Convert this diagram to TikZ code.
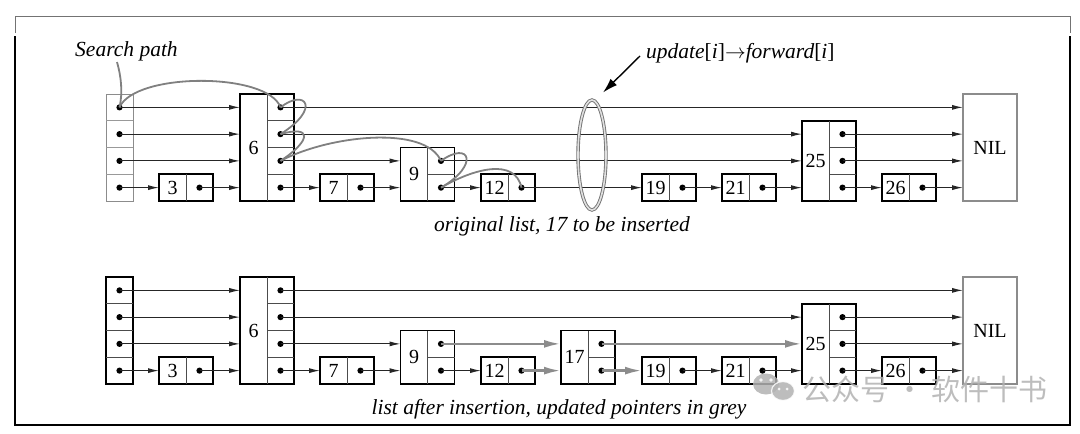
\documentclass[tikz,border=0pt]{standalone}
\usepackage{fontspec}
\setmainfont{Liberation Serif}
\newfontfamily\cjkfont{Noto Sans CJK SC}
\usetikzlibrary{arrows.meta,shapes.geometric,calc}

\tikzset{
  nd/.style={draw=black, line width=1.9pt, inner sep=0pt, outer sep=0pt},
  ndgray/.style={draw=black!45, line width=1pt, inner sep=0pt, outer sep=0pt},
  nilbox/.style={draw=black!45, line width=1.5pt, inner sep=0pt, outer sep=0pt},
  sepline/.style={draw=black!70, line width=0.9pt},
  sepgray/.style={draw=black!40, line width=0.9pt},
  ptr/.style={draw=black!85, line width=1pt, -{Latex[length=11pt,width=5pt]}},
  gptr/.style={draw=black!45, line width=2.6pt, -{Latex[length=17pt,width=8pt]}},
  spath/.style={draw=black!50, line width=1.8pt},
  num/.style={font=\fontsize{20}{21}\selectfont, inner sep=0pt},
  captext/.style={font=\fontsize{21.5}{24}\selectfont\itshape, inner sep=0pt},
  dotmark/.style={fill=black},
}

% list node: #1 name, #2 x-left, #3 y-top, #4 rows, #5 label
\newcommand\lnode[5]{%
  \node[nd, minimum width=54pt, minimum height={#4*26.75pt}, anchor=north west] (#1) at (#2,#3) {};
  \draw[sepline] (#2+27,#3) -- (#2+27,#3+#4*26.75);
  \ifnum#4>1
    \foreach \k in {2,...,#4} {\draw[sepline] (#2+27,#3+\k*26.75-26.75) -- (#2+54,#3+\k*26.75-26.75);}
  \fi
  \foreach \k in {1,...,#4} {\coordinate (#1-\k) at (#2+40.5,#3+\k*26.75-13.375); \fill[dotmark] (#1-\k) circle (3.1);}
  \node[num] (#1l) at (#2+13.5,#3+#4*13.375) {#5};
}
% header: #1 name, #2 x-left, #3 y-top, #4 box style, #5 separator style
\newcommand\hnode[5]{%
  \node[#4, minimum width=27pt, minimum height=107pt, anchor=north west] (#1) at (#2,#3) {};
  \foreach \k in {1,2,3} {\draw[#5] (#2,#3+\k*26.75) -- (#2+27,#3+\k*26.75);}
  \foreach \k in {1,...,4} {\coordinate (#1-\k) at (#2+13.5,#3+\k*26.75-13.375); \fill[dotmark] (#1-\k) circle (3.1);}
}

\begin{document}
\begin{tikzpicture}[x=1pt,y=-1pt]
\useasboundingbox (0,0) rectangle (1080,434);

% frame
\draw[black!55, line width=1pt] (15,33) -- (15,16) -- (1070,16) -- (1070,33);
\draw[black, line width=2pt] (15,36) -- (15,425) -- (1070,425) -- (1070,36);

% ---------------- top list ----------------
\hnode{Th}{106}{94}{ndgray}{sepgray}
\lnode{T3}{159}{174.25}{1}{3}
\lnode{T6}{240}{94}{4}{6}
\lnode{T7}{320}{174.25}{1}{7}
\lnode{T9}{400.5}{147.5}{2}{9}
\lnode{T12}{481}{174.25}{1}{12}
\lnode{T19}{642}{174.25}{1}{19}
\lnode{T21}{722}{174.25}{1}{21}
\lnode{T25}{802}{120.75}{3}{25}
\lnode{T26}{882}{174.25}{1}{26}
\node[nilbox, num, minimum width=54pt, minimum height=107pt, anchor=north west] (TN) at (963,94) {NIL};

\draw[ptr] (Th-1) -- (Th-1 -| T6.west);
\draw[ptr] (Th-2) -- (Th-2 -| T6.west);
\draw[ptr] (Th-3) -- (Th-3 -| T6.west);
\draw[ptr] (Th-4) -- (Th-4 -| T3.west);
\draw[ptr] (T3-1) -- (T3-1 -| T6.west);
\draw[ptr] (T6-1) -- (T6-1 -| TN.west);
\draw[ptr] (T6-2) -- (T6-2 -| T25.west);
\draw[ptr] (T6-3) -- (T6-3 -| T9.west);
\draw[ptr] (T6-4) -- (T6-4 -| T7.west);
\draw[ptr] (T7-1) -- (T7-1 -| T9.west);
\draw[ptr] (T9-1) -- (T9-1 -| T25.west);
\draw[ptr] (T9-2) -- (T9-2 -| T12.west);
\draw[ptr] (T12-1) -- (T12-1 -| T19.west);
\draw[ptr] (T19-1) -- (T19-1 -| T21.west);
\draw[ptr] (T21-1) -- (T21-1 -| T25.west);
\draw[ptr] (T25-1) -- (T25-1 -| TN.west);
\draw[ptr] (T25-2) -- (T25-2 -| TN.west);
\draw[ptr] (T25-3) -- (T25-3 -| T26.west);
\draw[ptr] (T26-1) -- (T26-1 -| TN.west);

% search path
\node[captext, anchor=base] (sp) at (126.5,56.5) {Search path};
\coordinate (spt) at (117,62);
\draw[spath] (spt) .. controls (121,76) and (123,92) .. (Th-1);
\draw[spath] (Th-1) .. controls (135,72) and (268,72) .. (T6-1);
\draw[spath] (T6-1) .. controls (305,88) and (322,108) .. (T6-2);
\draw[spath] (T6-2) .. controls (312,125) and (312,140) .. (T6-3);
\draw[spath] (T6-3) .. controls (330,135) and (425,125) .. (T9-1);
\draw[spath] (T9-1) .. controls (470,140) and (480,165) .. (T9-2);
\draw[spath] (T9-2) .. controls (475,168) and (515,158) .. (T12-1);

% update ellipse
\node[ellipse, draw=black!55, line width=0.9pt, double=black!12, double distance=1.6pt,
      minimum width=28pt, minimum height=110pt, inner sep=0pt] (U) at (592,155) {};
\node[captext, anchor=base west] (up) at (646,58)
  {update\textup{[}i\textup{]}$\rightarrow$forward\textup{[}i\textup{]}};
\coordinate (ua) at (640,56);
\draw[black, line width=1.4pt, -{Latex[length=15pt,width=9pt]}] (ua) -- ($(U.north)+(11,-7)$);

\node[captext, anchor=base] (c1) at (562,231) {original list, 17 to be inserted};

% ---------------- bottom list ----------------
\hnode{Bh}{106}{277}{nd}{sepline}
\lnode{B3}{159}{357.25}{1}{3}
\lnode{B6}{240}{277}{4}{6}
\lnode{B7}{320}{357.25}{1}{7}
\lnode{B9}{400.5}{330.5}{2}{9}
\lnode{B12}{481}{357.25}{1}{12}
\lnode{B17}{561}{330.5}{2}{17}
\lnode{B19}{642}{357.25}{1}{19}
\lnode{B21}{722}{357.25}{1}{21}
\lnode{B25}{802}{303.75}{3}{25}
\lnode{B26}{882}{357.25}{1}{26}
\node[nilbox, num, minimum width=54pt, minimum height=107pt, anchor=north west] (BN) at (963,277) {NIL};

\draw[ptr] (Bh-1) -- (Bh-1 -| B6.west);
\draw[ptr] (Bh-2) -- (Bh-2 -| B6.west);
\draw[ptr] (Bh-3) -- (Bh-3 -| B6.west);
\draw[ptr] (Bh-4) -- (Bh-4 -| B3.west);
\draw[ptr] (B3-1) -- (B3-1 -| B6.west);
\draw[ptr] (B6-1) -- (B6-1 -| BN.west);
\draw[ptr] (B6-2) -- (B6-2 -| B25.west);
\draw[ptr] (B6-3) -- (B6-3 -| B9.west);
\draw[ptr] (B6-4) -- (B6-4 -| B7.west);
\draw[ptr] (B7-1) -- (B7-1 -| B9.west);
\draw[gptr] (B9-1) -- (B9-1 -| B17.west);
\draw[ptr] (B9-2) -- (B9-2 -| B12.west);
\draw[gptr] (B12-1) -- (B12-1 -| B17.west);
\draw[gptr] (B17-1) -- (B17-1 -| B25.west);
\draw[gptr] (B17-2) -- (B17-2 -| B19.west);
\draw[ptr] (B19-1) -- (B19-1 -| B21.west);
\draw[ptr] (B21-1) -- (B21-1 -| B25.west);
\draw[ptr] (B25-1) -- (B25-1 -| BN.west);
\draw[ptr] (B25-2) -- (B25-2 -| BN.west);
\draw[ptr] (B25-3) -- (B25-3 -| B26.west);
\draw[ptr] (B26-1) -- (B26-1 -| BN.west);

\node[captext, anchor=base] (c2) at (559,414) {list after insertion, updated pointers in grey};

% watermark
\begin{scope}[opacity=0.85]
\fill[black!30] (766,384) ellipse (13 and 10.5);
\fill[black!30, draw=white, line width=1.2pt] (783,391) ellipse (11.5 and 9.5);
\fill[white] (761,380) circle (1.8) (771,380) circle (1.8) (779,389) circle (1.5) (787,389) circle (1.5);
\node[font=\cjkfont\fontsize{29}{30}\selectfont, text=black!30, anchor=west, inner sep=0pt] (wm) at (802,389) {公众号 · 软件十书};
\end{scope}
\end{tikzpicture}
\end{document}
